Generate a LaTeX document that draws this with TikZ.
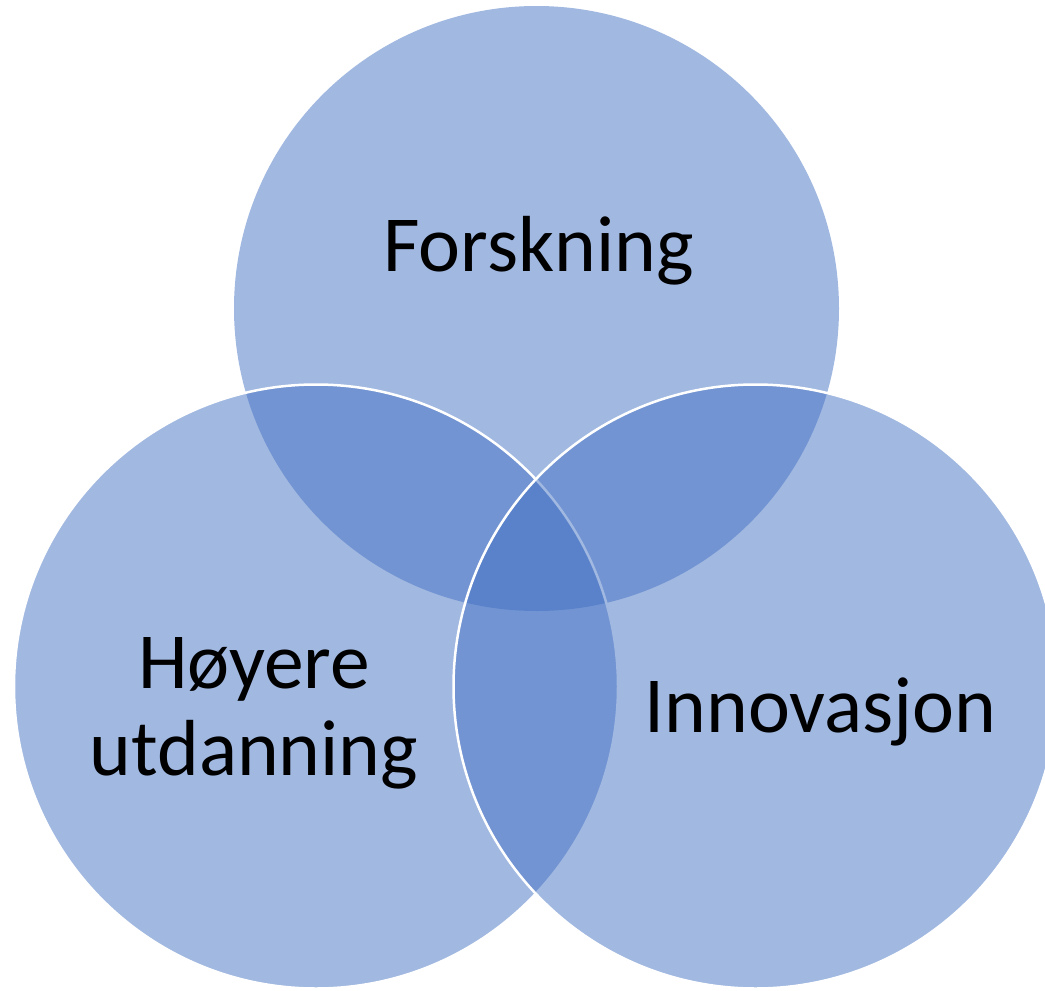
\documentclass[tikz,border=0pt]{standalone}
\usepackage{fontspec}
\setmainfont{Carlito}
\definecolor{venn}{RGB}{68,114,196}
\begin{document}
\begin{tikzpicture}[x=1pt,y=-1pt,
  set/.style={fill=venn,fill opacity=0.5},
  setline/.style={draw=white,line width=2.5pt},
  lbl/.style={inner sep=0pt,text=black,font=\fontsize{79.5}{87}\selectfont,align=center}]
\useasboundingbox (0,0) rectangle (1045,991);
\clip (0,0) rectangle (1045,991);
\fill[white] (0,0) rectangle (1045,991);
\fill[set] (536.5,308.5) circle[radius=302.5];
\path[set,setline] (316,686.5) circle[radius=302];
\path[set,setline] (755.5,686.5) circle[radius=302];
\node[lbl,anchor=base] (f) at (538.5,271) {Forskning};
\node[lbl,anchor=base] (i) at (820.5,732) {Innovasjon};
\node[lbl,anchor=center] (h) at (254,713.5) {Høyere\\utdanning};
\end{tikzpicture}
\end{document}
